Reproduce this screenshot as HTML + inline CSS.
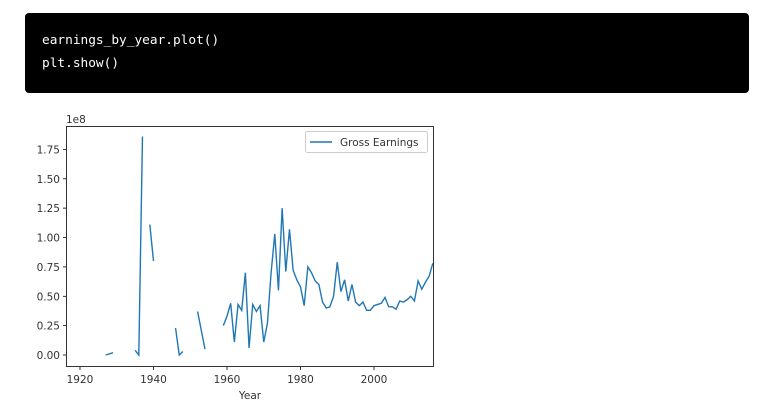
<!DOCTYPE html>
<html><head><meta charset="utf-8"><style>
html,body{margin:0;padding:0;background:#fff;width:767px;height:413px;overflow:hidden}
.code{position:absolute;left:25px;top:13px;width:724px;height:80px;background:#000;border-radius:4px}
.code div{position:absolute;left:17px;color:#fff;font:12.8px "DejaVu Sans Mono","Liberation Mono",monospace;white-space:pre}
</style></head><body>
<div class="code"><div style="top:20px">earnings_by_year.plot()</div><div style="top:43px">plt.show()</div></div>
<svg width="767" height="413" style="position:absolute;left:0;top:0" font-family="DejaVu Sans, Liberation Sans, sans-serif" font-size="10.5" fill="#333">
<g transform="matrix(3.675,0,0,-117.5,-6976,355)" fill="none" stroke="#1f77b4" stroke-width="1.4">
<polyline vector-effect="non-scaling-stroke" points="1927,0 1929,0.02"/>
<polyline vector-effect="non-scaling-stroke" points="1935,0.04 1936,0 1937,1.86"/>
<polyline vector-effect="non-scaling-stroke" points="1939,1.11 1940,0.80"/>
<polyline vector-effect="non-scaling-stroke" points="1946,0.23 1947,0 1948,0.03"/>
<polyline vector-effect="non-scaling-stroke" points="1952,0.37 1954,0.05"/>
<polyline vector-effect="non-scaling-stroke" points="1959,0.25 1960,0.33 1961,0.44 1962,0.11 1963,0.43 1964,0.38 1965,0.70 1966,0.06 1967,0.43 1968,0.37 1969,0.42 1970,0.11 1971,0.27 1972,0.70 1973,1.03 1974,0.55 1975,1.25 1976,0.71 1977,1.07 1978,0.72 1979,0.64 1980,0.58 1981,0.42 1982,0.75 1983,0.70 1984,0.63 1985,0.60 1986,0.45 1987,0.40 1988,0.41 1989,0.50 1990,0.79 1991,0.54 1992,0.64 1993,0.46 1994,0.60 1995,0.45 1996,0.42 1997,0.45 1998,0.38 1999,0.38 2000,0.42 2001,0.43 2002,0.44 2003,0.49 2004,0.41 2005,0.41 2006,0.39 2007,0.46 2008,0.45 2009,0.47 2010,0.50 2011,0.46 2012,0.63 2013,0.56 2014,0.62 2015,0.67 2016,0.78"/>
</g>
<rect x="66.5" y="126.5" width="367" height="240" fill="none" stroke="#000" stroke-width="0.8"/>
<g stroke="#000" stroke-width="0.8">
<line x1="80" y1="367" x2="80" y2="370"/><line x1="153.5" y1="367" x2="153.5" y2="370"/><line x1="227" y1="367" x2="227" y2="370"/><line x1="300.5" y1="367" x2="300.5" y2="370"/><line x1="374" y1="367" x2="374" y2="370"/>
<line x1="63" y1="355" x2="66" y2="355"/><line x1="63" y1="325.6" x2="66" y2="325.6"/><line x1="63" y1="296.3" x2="66" y2="296.3"/><line x1="63" y1="266.9" x2="66" y2="266.9"/><line x1="63" y1="237.5" x2="66" y2="237.5"/><line x1="63" y1="208.1" x2="66" y2="208.1"/><line x1="63" y1="178.8" x2="66" y2="178.8"/><line x1="63" y1="149.4" x2="66" y2="149.4"/>
</g>
<g text-anchor="middle"><text x="80" y="383">1920</text><text x="153.5" y="383">1940</text><text x="227" y="383">1960</text><text x="300.5" y="383">1980</text><text x="374" y="383">2000</text><text x="250" y="399">Year</text></g>
<g text-anchor="end"><text x="60" y="359">0.00</text><text x="60" y="329.6">0.25</text><text x="60" y="300.3">0.50</text><text x="60" y="270.9">0.75</text><text x="60" y="241.5">1.00</text><text x="60" y="212.1">1.25</text><text x="60" y="182.8">1.50</text><text x="60" y="153.4">1.75</text></g>
<text x="66" y="123">1e8</text>
<rect x="305.5" y="131.5" width="122" height="21" rx="2" fill="#fff" stroke="#ccc"/>
<line x1="310" y1="142" x2="332" y2="142" stroke="#1f77b4" stroke-width="1.5"/>
<text x="340" y="146">Gross Earnings</text>
</svg>
</body></html>
